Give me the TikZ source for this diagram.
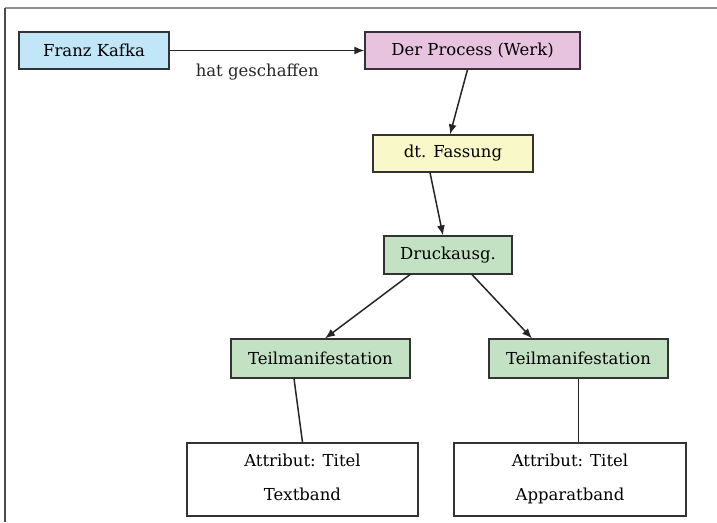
\documentclass[tikz,border=0pt]{standalone}
\usepackage{fontspec}
\setmainfont{DejaVu Serif}
\usetikzlibrary{arrows.meta}
\definecolor{kblue}{HTML}{C0E6F8}
\definecolor{kpink}{HTML}{E8C3DF}
\definecolor{kyellow}{HTML}{F8F8C8}
\definecolor{kgreen}{HTML}{C3E2C3}
\definecolor{kframe}{HTML}{909090}
\begin{document}
\begin{tikzpicture}[x=1pt,y=-1pt,
  box/.style={draw=black!80,line width=1.2pt,inner sep=0pt,font=\fontsize{16.5}{19}\selectfont},
  conn/.style={line width=1.5pt,black!85},
  arr/.style={conn,-{Latex[length=10pt,width=8pt]}}]
\useasboundingbox (0,0) rectangle (717,522);
\fill[white] (0,0) rectangle (717,522);
\draw[kframe,line width=2pt] (5,8) -- (717,8);
\draw[black!70,line width=1.3pt] (5,8) -- (5,522);
\node[box,fill=kblue,minimum width=150pt,minimum height=37pt] (kafka) at (94,50.5) {Franz Kafka};
\node[box,fill=kpink,minimum width=215pt,minimum height=37pt] (werk) at (472.5,50.5) {Der Process (Werk)};
\node[box,fill=kyellow,minimum width=160pt,minimum height=37pt] (fass) at (453,153.5) {dt. Fassung};
\node[box,fill=kgreen,minimum width=128pt,minimum height=38pt] (druck) at (448,255) {Druckausg.};
\node[box,fill=kgreen,minimum width=179pt,minimum height=39pt] (t1) at (320.5,358.5) {Teilmanifestation};
\node[box,fill=kgreen,minimum width=179pt,minimum height=39pt] (t2) at (578.5,358.5) {Teilmanifestation};
\node[box,fill=white,minimum width=231pt,minimum height=73pt,align=center] (a1) at (302.5,479.5) {\strut Attribut: Titel\\[15pt]\strut Textband};
\node[box,fill=white,minimum width=232pt,minimum height=73pt,align=center] (a2) at (570,479.5) {\strut Attribut: Titel\\[15pt]\strut Apparatband};
\draw[arr] (kafka.east) -- (werk.west) node[pos=0.45,below=9pt,font=\fontsize{16.5}{19}\selectfont] (lab) {hat geschaffen};
\draw[arr] ([xshift=-5pt]werk.south) -- ([xshift=-3pt]fass.north);
\draw[arr] ([xshift=-23pt]fass.south) -- ([xshift=-5pt]druck.north);
\draw[arr] ([xshift=-38pt]druck.south) -- ([xshift=4.5pt]t1.north);
\draw[arr] ([xshift=24pt]druck.south) -- ([xshift=-46.5pt]t2.north);
\draw[conn] ([xshift=-26.5pt]t1.south) -- (a1.north);
\draw[conn] (t2.south) -- (a2.north -| t2.south);
\end{tikzpicture}
\end{document}
